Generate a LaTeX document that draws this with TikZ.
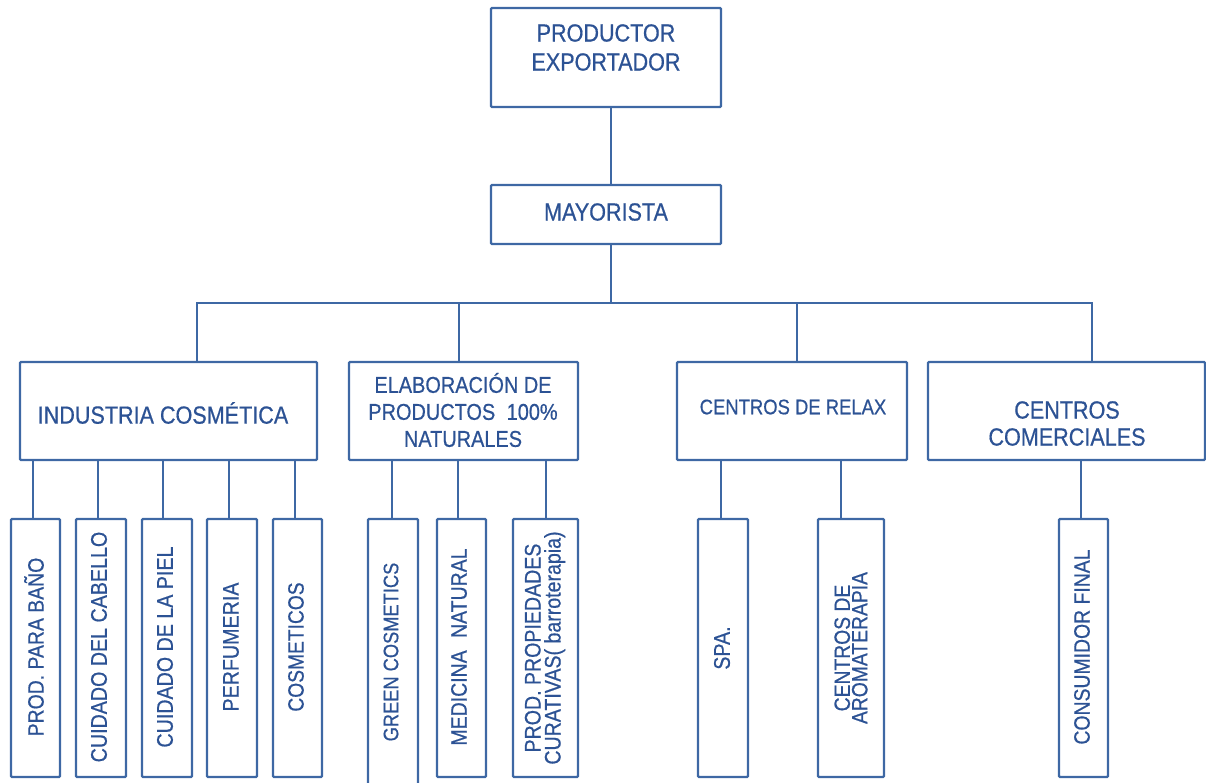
\documentclass[tikz,border=0pt]{standalone}
\usepackage{fontspec}
\setmainfont{Liberation Sans}[FakeStretch=0.87,FakeBold=0.6]
\definecolor{txtblue}{RGB}{44,82,148}
\definecolor{lineblue}{RGB}{62,104,164}
\newcommand{\fsz}[2]{\fontsize{#1}{#2}\selectfont}
\tikzset{
  box/.style={draw=lineblue, line width=2.4pt, rounded corners=1pt, inner sep=0pt},
  lbl/.style={text=txtblue, align=center, inner sep=0pt},
  vlbl/.style={lbl, rotate=90},
  conn/.style={draw=lineblue, line width=2.4pt},
}
\begin{document}
\begin{tikzpicture}[x=1pt,y=-1pt]
\useasboundingbox (0,0) rectangle (1206,782);

% level 0 / 1
\node[box, minimum width=230, minimum height=99] (prod) at (606,57.5) {};
\node[lbl, font=\fsz{24.8}{29}] (prodt) at (606,47.5) {PRODUCTOR\\EXPORTADOR};
\node[box, minimum width=230, minimum height=59] (may) at (606,214.5) {};
\node[lbl, font=\fsz{24.8}{29}] (mayt) at (606,212) {MAYORISTA};

% level 2
\node[box, minimum width=297, minimum height=98] (A) at (168.5,411) {};
\node[lbl, font=\fsz{24.8}{29}] (At) at (163,413) {INDUSTRIA COSMÉTICA};
\node[box, minimum width=229, minimum height=98] (B) at (463.5,411) {};
\node[lbl, font=\fsz{22.9}{27}] (Bt) at (463,410) {ELABORACIÓN DE\\PRODUCTOS\hspace{0.5em}100\%\\NATURALES};
\node[box, minimum width=230, minimum height=98] (C) at (792,411) {};
\node[lbl, font=\fsz{21.2}{25}] (Ct) at (793,407) {CENTROS DE RELAX};
\node[box, minimum width=277, minimum height=98] (D) at (1066.5,411) {};
\node[lbl, font=\fsz{24.8}{27}] (Dt) at (1067,423.5) {CENTROS\\COMERCIALES};

% level 3
\node[box, minimum width=49, minimum height=258] (a1) at (35.5,648) {};
\node[box, minimum width=50, minimum height=258] (a2) at (101,648) {};
\node[box, minimum width=50, minimum height=258] (a3) at (167,648) {};
\node[box, minimum width=50, minimum height=258] (a4) at (232,648) {};
\node[box, minimum width=49, minimum height=258] (a5) at (297.5,648) {};
\node[box, minimum width=50, minimum height=281] (b1) at (393,659.5) {};
\node[box, minimum width=49, minimum height=258] (b2) at (461.5,648) {};
\node[box, minimum width=65, minimum height=258] (b3) at (545.5,648) {};
\node[box, minimum width=50, minimum height=258] (c1) at (723,648) {};
\node[box, minimum width=66, minimum height=258] (c2) at (851,648) {};
\node[box, minimum width=49, minimum height=258] (d1) at (1083.5,648) {};

\node[vlbl, font=\fsz{22.3}{26}] at (34,647) {PROD. PARA BAÑO};
\node[vlbl, font=\fsz{22.6}{26}] at (99,647) {CUIDADO DEL CABELLO};
\node[vlbl, font=\fsz{22.6}{26}] at (165,647) {CUIDADO DE LA PIEL};
\node[vlbl, font=\fsz{22.6}{26}] at (231,647) {PERFUMERIA};
\node[vlbl, font=\fsz{22.1}{26}] at (296,647) {COSMETICOS};
\node[vlbl, font=\fsz{21}{26}] at (391,652) {GREEN COSMETICS};
\node[vlbl, font=\fsz{22.4}{26}] at (459,647) {MEDICINA\hspace{0.55em}NATURAL};
\node[vlbl, font=\fsz{22.5}{20}] at (545,648) {PROD. PROPIEDADES\\CURATIVAS( barroterapia)};
\node[vlbl, font=\fsz{22.6}{26}] at (722,648) {SPA.};
\node[vlbl, font=\fsz{22.2}{17.5}] at (851,648) {CENTROS DE\\AROMATERAPIA};
\node[vlbl, font=\fsz{22.3}{26}] at (1082,647) {CONSUMIDOR FINAL};

% connectors
\coordinate (barL) at (197,303);
\coordinate (barR) at (1092,303);
\coordinate (barM) at (611,303);
\draw[conn] (prod.south -| barM) -- (may.north -| barM);
\draw[conn] (may.south -| barM) -- (barM);
\draw[conn] (A.north -| barL) -- (barL) -- (barR) -- (D.north -| barR);
\draw[conn] (B.north -| 459,0) -- (459,303);
\draw[conn] (C.north -| 797,0) -- (797,303);

\draw[conn] (A.south -| 33,0) -- (a1.north -| 33,0);
\draw[conn] (A.south -| 98,0) -- (a2.north -| 98,0);
\draw[conn] (A.south -| 163,0) -- (a3.north -| 163,0);
\draw[conn] (A.south -| 229,0) -- (a4.north -| 229,0);
\draw[conn] (A.south -| 295,0) -- (a5.north -| 295,0);
\draw[conn] (B.south -| 392,0) -- (b1.north -| 392,0);
\draw[conn] (B.south -| 458,0) -- (b2.north -| 458,0);
\draw[conn] (B.south -| 546,0) -- (b3.north -| 546,0);
\draw[conn] (C.south -| 721,0) -- (c1.north -| 721,0);
\draw[conn] (C.south -| 841,0) -- (c2.north -| 841,0);
\draw[conn] (D.south -| 1081,0) -- (d1.north -| 1081,0);
\end{tikzpicture}
\end{document}
